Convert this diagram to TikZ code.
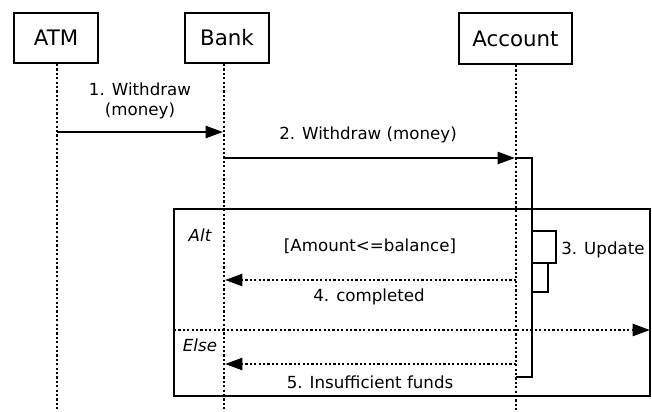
\documentclass[tikz,border=0pt]{standalone}
\usepackage{fontspec}
\setmainfont{DejaVu Sans}
\usetikzlibrary{arrows.meta}
\begin{document}
\begin{tikzpicture}[x=0.75pt,y=-0.75pt,
  actor/.style={draw,line width=1.8pt,minimum height=37.5pt,inner sep=0pt,font=\fontsize{16}{19}\selectfont},
  life/.style={line width=1.8pt,dash pattern=on 1.6pt off 1.7pt},
  tip/.style={-{Triangle[length=13pt,width=9pt]}},
  msg/.style={line width=1.8pt,tip},
  reply/.style={life,tip},
  lbl/.style={inner sep=0pt,align=center,font=\fontsize{12.5}{15.5}\selectfont},
  guard/.style={inner sep=0pt,font=\fontsize{12.5}{15}\selectfont\itshape},
  bar/.style={line width=1.8pt}]
\useasboundingbox (0,0) rectangle (652,411);
% actors
\node[actor,minimum width=63pt] (atm) at (56,38) {ATM};
\node[actor,minimum width=63pt] (bank) at (227,38) {Bank};
\node[actor,minimum width=84.75pt,minimum height=38.25pt] (acc) at (515.5,38.5) {Account};
% lifelines
\coordinate (atmT) at (57,64);  \coordinate (atmB) at (57,411);
\coordinate (bankT) at (224,64); \coordinate (bankB) at (224,411);
\coordinate (accT) at (516,65); \coordinate (accB) at (516,411);
\draw[life] (atmT) -- (atmB);
\draw[life] (bankT) -- (bankB);
\draw[life] (accT) -- (accB);
% frame
\draw[bar] (174,209) rectangle (650,396);
\coordinate (sepL) at (174,330); \coordinate (sepR) at (650,330);
\draw[reply] (sepL) -- (sepR);
% message 1
\coordinate (m1s) at (57,132); \coordinate (m1e) at (223,132);
\draw[msg] (m1s) -- (m1e);
\node[lbl] (l1) at (140,101) {1. Withdraw\\(money)};
% message 2
\coordinate (m2s) at (225,158); \coordinate (m2e) at (515,158);
\draw[msg] (m2s) -- (m2e);
\node[lbl] (l2) at (368,135) {2. Withdraw (money)};
% activation
\coordinate (actA) at (516,158); \coordinate (actB) at (532,158);
\coordinate (actC) at (532,377); \coordinate (actD) at (516,377);
\draw[bar] (actA) -- (actB) -- (actC) -- (actD);
\draw[bar] (532,231) rectangle (556,263);
\draw[bar] (532,263) rectangle (548,292);
\node[lbl,anchor=west] (l3) at (561,250) {3. Update};
% message 4
\coordinate (m4s) at (516,280); \coordinate (m4e) at (225,280);
\draw[reply] (m4s) -- (m4e);
\node[lbl] (g1) at (370,246) {[Amount<=balance]};
\node[lbl] (l4) at (369,297) {4. completed};
% message 5
\coordinate (m5s) at (516,364); \coordinate (m5e) at (225,364);
\draw[reply] (m5s) -- (m5e);
\node[lbl] (l5) at (370,382) {5. Insufficient funds};
% guards
\node[guard] (alt) at (200,235) {Alt};
\node[guard] (else) at (200,345) {Else};
\end{tikzpicture}
\end{document}
